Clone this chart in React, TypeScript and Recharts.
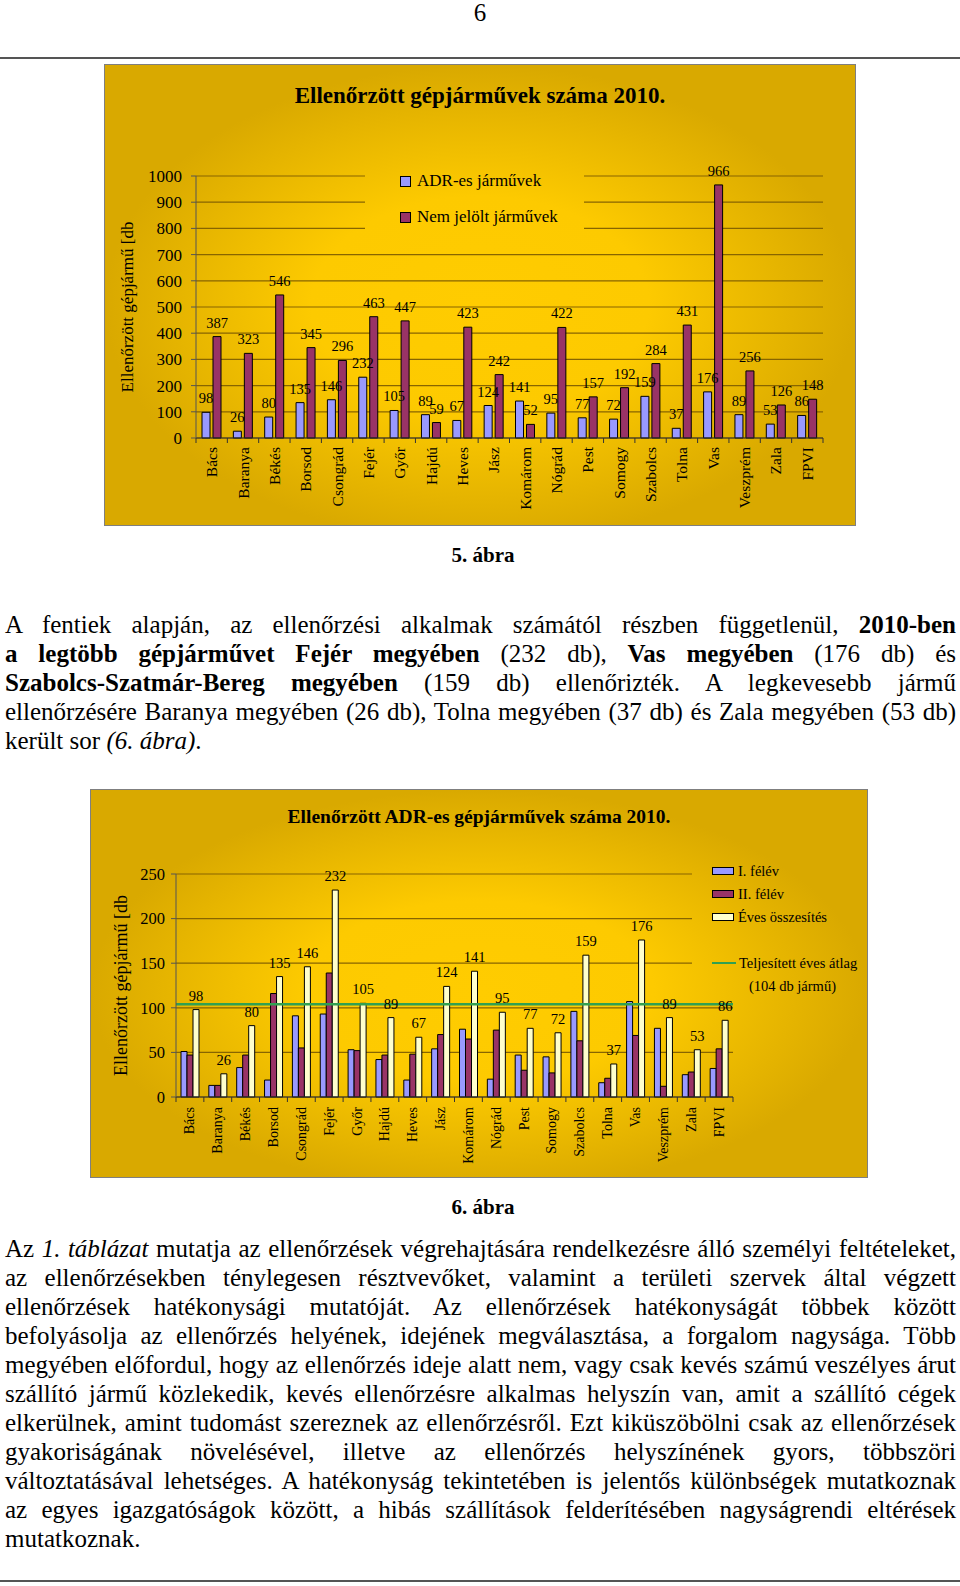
import { BarChart, Bar, XAxis, YAxis, CartesianGrid, Legend, LabelList, ReferenceLine } from "recharts";

const counties = [
  "Bács", "Baranya", "Békés", "Borsod", "Csongrád", "Fejér", "Győr", "Hajdú", "Heves", "Jász",
  "Komárom", "Nógrád", "Pest", "Somogy", "Szabolcs", "Tolna", "Vas", "Veszprém", "Zala", "FPVI",
];

// 5. ábra
const adrVehicles = [98, 26, 80, 135, 146, 232, 105, 89, 67, 124, 141, 95, 77, 72, 159, 37, 176, 89, 53, 86];
const unmarkedVehicles = [387, 323, 546, 345, 296, 463, 447, 59, 423, 242, 52, 422, 157, 192, 284, 431, 966, 256, 126, 148];
const ticksFig5 = [0, 100, 200, 300, 400, 500, 600, 700, 800, 900, 1000];

// 6. ábra
const firstHalf = [51, 13, 33, 19, 91, 93, 53, 42, 19, 54, 76, 20, 47, 45, 96, 16, 107, 77, 25, 32];
const secondHalf = [47, 13, 47, 116, 55, 139, 52, 47, 48, 70, 65, 75, 30, 27, 63, 21, 69, 12, 28, 54];
const yearTotal = [98, 26, 80, 135, 146, 232, 105, 89, 67, 124, 141, 95, 77, 72, 159, 37, 176, 89, 53, 86];
const yearlyAverage = 104;
const ticksFig6 = [0, 50, 100, 150, 200, 250];

const fig5Data = counties.map((name, i) => ({ name, adr: adrVehicles[i], nem: unmarkedVehicles[i] }));
const fig6Data = counties.map((name, i) => ({ name, h1: firstHalf[i], h2: secondHalf[i], total: yearTotal[i] }));

const serif = '"Liberation Serif", "Times New Roman", serif';
const chartBg = "radial-gradient(ellipse farthest-side at 50% 52%, #ffcc00 0%, #fdca00 45%, #d9a900 100%)";
const gridColor = "#876500";
const BLUE = "#9999ff";
const PLUM = "#993366";
const CREAM = "#ffffcc";
const GREEN = "#31a052";

const XTick = (props: any) => {
  const { x, y, payload, index, visibleTicksCount, gap, fontSize, half } = props;
  const h = payload && typeof payload.offset === "number" && payload.offset > 0 ? payload.offset : half;
  const ty = y + gap;
  return (
    <g>
      <line x1={x - h} x2={x - h} y1={y} y2={y + 5} stroke="#333" />
      {index === visibleTicksCount - 1 && <line x1={x + h} x2={x + h} y1={y} y2={y + 5} stroke="#333" />}
      <text
        x={x}
        y={ty}
        transform={`rotate(-90 ${x} ${ty})`}
        textAnchor="end"
        dominantBaseline="central"
        fontSize={fontSize}
        fontFamily={serif}
        fill="#000"
      >
        {payload.value}
      </text>
    </g>
  );
};

// gridlines that run behind the legend box are cut
const makeGrid = (limitY: number, gapFrom: number, gapTo: number | null) => (props: any) => {
  const { x1, x2, y1, y2, key, index } = props;
  const k = key ?? `g-${index}`;
  if (y1 < limitY) {
    return (
      <g key={k}>
        <line x1={x1} x2={gapFrom} y1={y1} y2={y2} stroke={gridColor} strokeWidth={1.2} />
        {gapTo !== null && <line x1={gapTo} x2={x2} y1={y1} y2={y2} stroke={gridColor} strokeWidth={1.2} />}
      </g>
    );
  }
  return <line key={k} x1={x1} x2={x2} y1={y1} y2={y2} stroke={gridColor} strokeWidth={1.2} />;
};

const labelStyle = { fontSize: 14.5, fontFamily: serif, fill: "#000" };

const Legend5 = () => (
  <div style={{ fontFamily: serif, fontSize: 17, color: "#000" }}>
    {[
      { c: BLUE, t: "ADR-es járművek" },
      { c: PLUM, t: "Nem jelölt járművek" },
    ].map((r) => (
      <div key={r.t} style={{ display: "flex", alignItems: "center", height: 36, whiteSpace: "nowrap" }}>
        <span style={{ width: 11, height: 11, boxSizing: "border-box", border: "1px solid #000", background: r.c, marginRight: 6 }} />
        {r.t}
      </div>
    ))}
  </div>
);

const Legend6 = () => (
  <div style={{ fontFamily: serif, fontSize: 14.5, color: "#000", position: "relative", width: 150, height: 140 }}>
    {[
      { c: BLUE, t: "I. félév" },
      { c: PLUM, t: "II. félév" },
      { c: CREAM, t: "Éves összesítés" },
    ].map((r) => (
      <div key={r.t} style={{ display: "flex", alignItems: "center", height: 23, whiteSpace: "nowrap" }}>
        <span style={{ width: 22, height: 8, boxSizing: "border-box", border: "1px solid #000", background: r.c, marginRight: 4 }} />
        {r.t}
      </div>
    ))}
    <div style={{ position: "absolute", left: 0, top: 92, display: "flex", alignItems: "center", height: 23, whiteSpace: "nowrap" }}>
      <span style={{ width: 24, height: 2, background: GREEN, marginRight: 3 }} />
      Teljesített éves átlag
    </div>
    <div style={{ position: "absolute", left: 37, top: 115, height: 23, lineHeight: "23px", whiteSpace: "nowrap" }}>
      (104 db jármű)
    </div>
  </div>
);

const bodyLine = (top: number, last: boolean) => ({
  position: "absolute" as const,
  left: 5,
  width: 951,
  top,
  height: 29,
  lineHeight: "29px",
  fontSize: 25,
  whiteSpace: "nowrap" as const,
  textAlign: (last ? "left" : "justify") as any,
  textAlignLast: (last ? "left" : "justify") as any,
});

const para1 = [
  <>A fentiek alapján, az ellenőrzési alkalmak számától részben függetlenül, <b>2010-ben</b></>,
  <><b>a legtöbb gépjárművet Fejér megyében</b> (232 db), <b>Vas megyében</b> (176 db) és</>,
  <><b>Szabolcs-Szatmár-Bereg megyében</b> (159 db) ellenőrizték. A legkevesebb jármű</>,
  <>ellenőrzésére Baranya megyében (26 db), Tolna megyében (37 db) és Zala megyében (53 db)</>,
  <>került sor <i>(6. ábra)</i>.</>,
];

const para2 = [
  <>Az <i>1. táblázat</i> mutatja az ellenőrzések végrehajtására rendelkezésre álló személyi feltételeket,</>,
  <>az ellenőrzésekben ténylegesen résztvevőket, valamint a területi szervek által végzett</>,
  <>ellenőrzések hatékonysági mutatóját. Az ellenőrzések hatékonyságát többek között</>,
  <>befolyásolja az ellenőrzés helyének, idejének megválasztása, a forgalom nagysága. Több</>,
  <>megyében előfordul, hogy az ellenőrzés ideje alatt nem, vagy csak kevés számú veszélyes árut</>,
  <>szállító jármű közlekedik, kevés ellenőrzésre alkalmas helyszín van, amit a szállító cégek</>,
  <>elkerülnek, amint tudomást szereznek az ellenőrzésről. Ezt kiküszöbölni csak az ellenőrzések</>,
  <>gyakoriságának növelésével, illetve az ellenőrzés helyszínének gyors, többszöri</>,
  <>változtatásával lehetséges. A hatékonyság tekintetében is jelentős különbségek mutatkoznak</>,
  <>az egyes igazgatóságok között, a hibás szállítások felderítésében nagyságrendi eltérések</>,
  <>mutatkoznak.</>,
];

export default function App() {
  return (
    <div style={{ position: "relative", width: 960, height: 1586, background: "#fff", fontFamily: serif, color: "#000", overflow: "hidden" }}>
      <style>{"body{margin:0}"}</style>

      <div style={{ position: "absolute", left: 0, width: 960, top: 0, fontSize: 25, lineHeight: 1, textAlign: "center" }}>6</div>
      <div style={{ position: "absolute", left: 0, width: 960, top: 57, height: 2, background: "#555" }} />

      {/* 5. ábra */}
      <div style={{ position: "absolute", left: 104, top: 64, width: 752, height: 462, boxSizing: "border-box", border: "1px solid #7f7f7f", background: chartBg }}>
        <BarChart width={750} height={460} data={fig5Data} margin={{ top: 111, right: 32, bottom: 27, left: 31 }} barCategoryGap={6} barGap={3}>
          <CartesianGrid vertical={false} horizontal={makeGrid(175, 260, 479)} />
          <XAxis
            dataKey="name"
            height={60}
            interval={0}
            tickLine={false}
            tickSize={0}
            tickMargin={0}
            axisLine={{ stroke: "#333" }}
            tick={<XTick gap={9} fontSize={15.5} half={15.7} />}
          />
          <YAxis
            width={60}
            domain={[0, 1000]}
            ticks={ticksFig5}
            interval={0}
            tickSize={5}
            tickMargin={9}
            axisLine={{ stroke: "#555" }}
            tickLine={{ stroke: "#555" }}
            tick={{ fontSize: 17, fill: "#000", fontFamily: serif }}
            label={{ value: "Ellenőrzött gépjármű [db", angle: -90, position: "insideLeft", offset: -9, style: { textAnchor: "middle", fontSize: 17, fontFamily: serif, fill: "#000" } }}
          />
          <Legend layout="vertical" align="center" verticalAlign="middle" content={() => <Legend5 />} wrapperStyle={{ left: 295, top: 98, width: 250, height: 72 }} />
          <Bar dataKey="adr" name="ADR-es járművek" fill={BLUE} stroke="#000" strokeWidth={1} isAnimationActive={false}>
            <LabelList dataKey="adr" position="top" offset={9} style={labelStyle} />
          </Bar>
          <Bar dataKey="nem" name="Nem jelölt járművek" fill={PLUM} stroke="#000" strokeWidth={1} isAnimationActive={false}>
            <LabelList dataKey="nem" position="top" offset={9} style={labelStyle} />
          </Bar>
        </BarChart>
        <div style={{ position: "absolute", left: 0, width: 750, top: 18.7, fontSize: 23, fontWeight: "bold", lineHeight: 1, textAlign: "center", whiteSpace: "nowrap" }}>
          Ellenőrzött gépjárművek száma 2010.
        </div>
      </div>

      <div style={{ position: "absolute", left: 0, width: 966, top: 545, fontSize: 21, fontWeight: "bold", lineHeight: 1, textAlign: "center" }}>5. ábra</div>

      {para1.map((l, i) => (
        <div key={`p1-${i}`} style={bodyLine(610 + i * 29.1, i === para1.length - 1)}>{l}</div>
      ))}

      {/* 6. ábra */}
      <div style={{ position: "absolute", left: 90, top: 789, width: 778, height: 389, boxSizing: "border-box", border: "1px solid #7f7f7f", background: chartBg }}>
        <BarChart width={776} height={387} data={fig6Data} margin={{ top: 84, right: 134, bottom: 20, left: 25 }} barCategoryGap={5} barGap={0}>
          <CartesianGrid vertical={false} horizontal={makeGrid(200, 601, null)} />
          <XAxis
            dataKey="name"
            height={60}
            interval={0}
            tickLine={false}
            tickSize={0}
            tickMargin={0}
            axisLine={{ stroke: "#333" }}
            tick={<XTick gap={10} fontSize={14} half={13.9} />}
          />
          <YAxis
            width={60}
            domain={[0, 250]}
            ticks={ticksFig6}
            interval={0}
            tickSize={5}
            tickMargin={6}
            axisLine={{ stroke: "#555" }}
            tickLine={{ stroke: "#555" }}
            tick={{ fontSize: 16.5, fill: "#000", fontFamily: serif }}
            label={{ value: "Ellenőrzött gépjármű [db", angle: -90, position: "insideLeft", offset: 5, style: { textAnchor: "middle", fontSize: 18, fontFamily: serif, fill: "#000" } }}
          />
          <Legend layout="vertical" align="center" verticalAlign="middle" content={() => <Legend6 />} wrapperStyle={{ left: 621, top: 69.5, width: 150, height: 140 }} />
          <Bar dataKey="h1" name="I. félév" fill={BLUE} stroke="#000" strokeWidth={1} isAnimationActive={false} />
          <Bar dataKey="h2" name="II. félév" fill={PLUM} stroke="#000" strokeWidth={1} isAnimationActive={false} />
          <Bar dataKey="total" name="Éves összesítés" fill={CREAM} stroke="#000" strokeWidth={1} isAnimationActive={false}>
            <LabelList dataKey="total" position="top" offset={9} style={labelStyle} />
          </Bar>
          <ReferenceLine y={yearlyAverage} stroke={GREEN} strokeWidth={2.5} />
        </BarChart>
        <div style={{ position: "absolute", left: 0, width: 776, top: 16.7, fontSize: 19.5, fontWeight: "bold", lineHeight: 1, textAlign: "center", whiteSpace: "nowrap" }}>
          Ellenőrzött ADR-es gépjárművek száma 2010.
        </div>
      </div>

      <div style={{ position: "absolute", left: 0, width: 966, top: 1197, fontSize: 21, fontWeight: "bold", lineHeight: 1, textAlign: "center" }}>6. ábra</div>

      {para2.map((l, i) => (
        <div key={`p2-${i}`} style={bodyLine(1234 + i * 29, i === para2.length - 1)}>{l}</div>
      ))}

      <div style={{ position: "absolute", left: 0, width: 960, top: 1580, height: 2, background: "#555" }} />
    </div>
  );
}
